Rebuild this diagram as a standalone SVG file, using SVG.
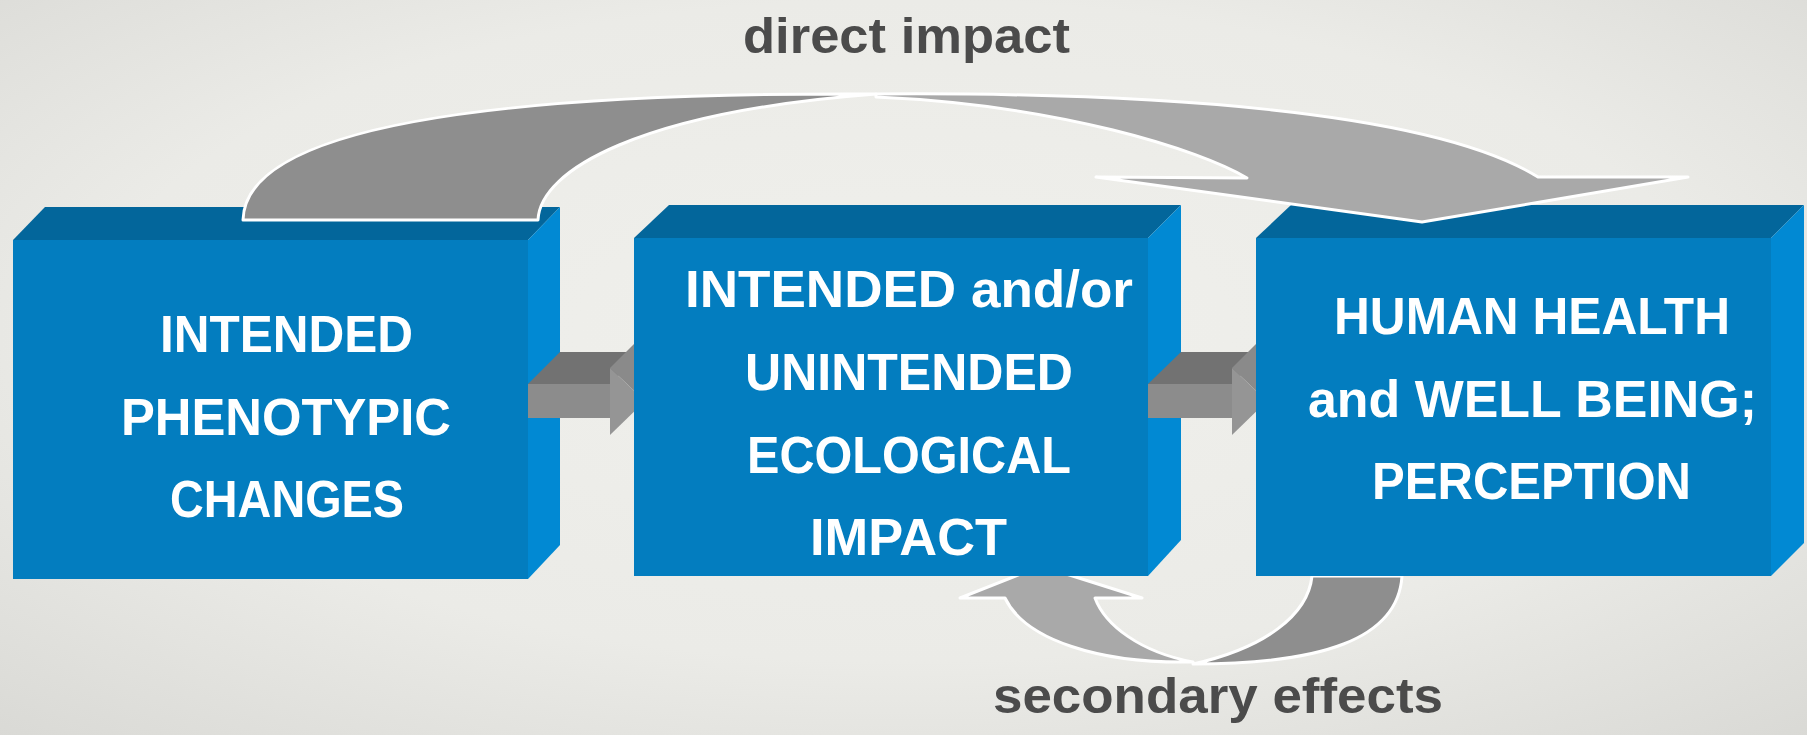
<svg xmlns="http://www.w3.org/2000/svg" width="1807" height="735" viewBox="0 0 1807 735">
<defs>
<radialGradient id="bg" cx="50%" cy="45%" r="75%">
<stop offset="0" stop-color="#f0f0ec"/>
<stop offset="0.6" stop-color="#ebebe7"/>
<stop offset="1" stop-color="#d9d9d5"/>
</radialGradient>
<style>
.front{fill:#037dbf}
.top{fill:#03669b}
.side{fill:#0189d3}
.lbl{font-family:"Liberation Sans","DejaVu Sans",sans-serif;font-weight:bold;font-size:52px;fill:#ffffff}
.cap{font-family:"Liberation Sans","DejaVu Sans",sans-serif;font-weight:bold;font-size:50px;fill:#4b4b4b}
.curve{stroke:#ffffff;stroke-width:3;stroke-linejoin:round}
.dk{fill:#8e8e8e}
.lt{fill:#a9a9a9}
.stop{fill:#727272}
.sfront{fill:#8c8c8c}
.hfront{fill:#959595}
.htop{fill:#8a8a8a}
</style>
</defs>
<rect x="0" y="0" width="1807" height="735" fill="url(#bg)"/>

<g id="connectors-back">
<g id="secondary-effects-arrow">
<path class="curve dk" d="M1402,576 C1398,640 1320,664 1193,664 C1265,648 1308,615 1312,576 Z"/>
<path class="curve lt" d="M960,598 L1041,566 L1142,598 L1095,598 C1105,625 1140,652 1193,662 C1100,664 1025,640 1005,598 Z"/>
</g>
</g>

<g id="node-phenotypic">
<polygon class="top" points="13,240 45,207 560,207 528,240"/>
<polygon class="side" points="528,240 560,207 560,545 528,579"/>
<rect class="front" x="13" y="240" width="515" height="339"/>
<text class="lbl" x="160" y="352" textLength="253" lengthAdjust="spacingAndGlyphs">INTENDED</text>
<text class="lbl" x="121" y="435" textLength="330" lengthAdjust="spacingAndGlyphs">PHENOTYPIC</text>
<text class="lbl" x="170" y="517" textLength="234" lengthAdjust="spacingAndGlyphs">CHANGES</text>
</g>

<g id="arrow-1">
<polygon class="stop" points="528,384 560,352 642,352 610,384"/>
<polygon class="htop" points="610,368 642,336 672,368 645,401"/>
<rect class="sfront" x="528" y="384" width="82" height="34"/>
<polygon class="hfront" points="610,368 610,435 645,401"/>
</g>

<g id="node-ecological">
<polygon class="top" points="634,238 669,205 1181,205 1148,238"/>
<polygon class="side" points="1148,238 1181,205 1181,540 1148,576"/>
<rect class="front" x="634" y="238" width="514" height="338"/>
<text class="lbl" x="685" y="307" textLength="448" lengthAdjust="spacingAndGlyphs">INTENDED and/or</text>
<text class="lbl" x="745" y="390" textLength="328" lengthAdjust="spacingAndGlyphs">UNINTENDED</text>
<text class="lbl" x="747" y="473" textLength="324" lengthAdjust="spacingAndGlyphs">ECOLOGICAL</text>
<text class="lbl" x="810" y="555" textLength="197" lengthAdjust="spacingAndGlyphs">IMPACT</text>
</g>

<g id="arrow-2">
<polygon class="stop" points="1148,384 1181,352 1264,352 1232,384"/>
<polygon class="htop" points="1232,368 1264,336 1294,368 1267,401"/>
<rect class="sfront" x="1148" y="384" width="84" height="34"/>
<polygon class="hfront" points="1232,368 1232,435 1267,401"/>
</g>

<g id="node-health">
<polygon class="top" points="1256,238 1291,205 1804,205 1771,238"/>
<polygon class="side" points="1771,238 1804,205 1804,543 1771,576"/>
<rect class="front" x="1256" y="238" width="515" height="338"/>
<text class="lbl" x="1334" y="334" textLength="396" lengthAdjust="spacingAndGlyphs">HUMAN HEALTH</text>
<text class="lbl" x="1308" y="417" textLength="449" lengthAdjust="spacingAndGlyphs">and WELL BEING;</text>
<text class="lbl" x="1372" y="499" textLength="319" lengthAdjust="spacingAndGlyphs">PERCEPTION</text>
</g>

<g id="connectors">
<g id="direct-impact-arrow">
<path class="curve dk" d="M243,220 C245,125 500,92 876,94 C640,112 540,170 538,220 Z"/>
<path class="curve lt" d="M876,94 C1150,92 1430,110 1538,177 L1688,177 L1422,222 L1096,177 L1247,178 C1200,150 1060,105 876,97 Z"/>
</g>
</g>

<g id="labels">
<text class="cap" x="743" y="53" textLength="327" lengthAdjust="spacingAndGlyphs">direct impact</text>
<text class="cap" x="993" y="713" textLength="450" lengthAdjust="spacingAndGlyphs">secondary effects</text>
</g>
</svg>
